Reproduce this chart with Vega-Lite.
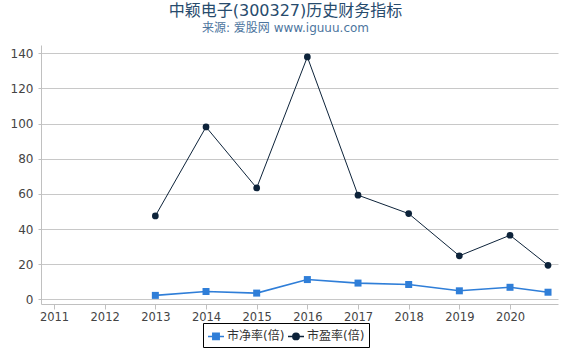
{
  "$schema": "https://vega.github.io/schema/vega-lite/v6.json",
  "width": 517,
  "height": 259,
  "autosize": {"type": "none"},
  "padding": {"left": 41, "top": 45, "right": 12, "bottom": 46},
  "background": "white",
  "config": {
    "font": "DejaVu Sans, Noto Sans CJK SC",
    "view": {"stroke": null}
  },
  "title": {
    "text": "中颖电子(300327)历史财务指标",
    "subtitle": "来源: 爱股网 www.iguuu.com",
    "anchor": "middle",
    "dx": -14,
    "fontSize": 16,
    "subtitleFontSize": 12,
    "color": "#274b6d",
    "subtitleColor": "#4d759e",
    "font": "DejaVu Sans, Noto Sans CJK SC",
    "subtitleFont": "DejaVu Sans, Noto Sans CJK SC",
    "fontWeight": "normal",
    "offset": 11,
    "subtitlePadding": 4
  },
  "data": {
    "values": [
      {"year": 2013, "series": "市净率(倍)", "value": 2.3},
      {"year": 2014, "series": "市净率(倍)", "value": 4.5},
      {"year": 2015, "series": "市净率(倍)", "value": 3.6},
      {"year": 2016, "series": "市净率(倍)", "value": 11.3},
      {"year": 2017, "series": "市净率(倍)", "value": 9.3},
      {"year": 2018, "series": "市净率(倍)", "value": 8.5},
      {"year": 2019, "series": "市净率(倍)", "value": 4.9},
      {"year": 2020, "series": "市净率(倍)", "value": 6.9},
      {"year": 2020.75, "series": "市净率(倍)", "value": 4.1},
      {"year": 2013, "series": "市盈率(倍)", "value": 47.5},
      {"year": 2014, "series": "市盈率(倍)", "value": 98.1},
      {"year": 2015, "series": "市盈率(倍)", "value": 63.4},
      {"year": 2016, "series": "市盈率(倍)", "value": 137.9},
      {"year": 2017, "series": "市盈率(倍)", "value": 59.3},
      {"year": 2018, "series": "市盈率(倍)", "value": 48.8},
      {"year": 2019, "series": "市盈率(倍)", "value": 24.8},
      {"year": 2020, "series": "市盈率(倍)", "value": 36.5},
      {"year": 2020.75, "series": "市盈率(倍)", "value": 19.4}
    ]
  },
  "encoding": {
    "x": {
      "field": "year",
      "type": "quantitative",
      "scale": {"domain": [2010.743, 2020.947], "nice": false, "zero": false},
      "axis": {
        "title": null,
        "values": [2011, 2012, 2013, 2014, 2015, 2016, 2017, 2018, 2019, 2020],
        "format": "d",
        "grid": false,
        "domainColor": "#C0C0C0",
        "tickColor": "#C0C0C0",
        "tickSize": 5,
        "labelPadding": 2,
        "labelFontSize": 11.5,
        "labelColor": "#444444",
        "labelFlush": false
      }
    },
    "y": {
      "field": "value",
      "type": "quantitative",
      "scale": {"domain": [-2.6, 144.7], "nice": false, "zero": false},
      "axis": {
        "title": null,
        "values": [0, 20, 40, 60, 80, 100, 120, 140],
        "grid": true,
        "gridColor": "#C8C8C8",
        "domainColor": "#C0C0C0",
        "tickColor": "#C0C0C0",
        "tickSize": 3,
        "labelPadding": 5,
        "labelFontSize": 12,
        "labelColor": "#444444"
      }
    },
    "color": {
      "field": "series",
      "type": "nominal",
      "scale": {"domain": ["市净率(倍)", "市盈率(倍)"], "range": ["#2f7ed8", "#0d233a"]},
      "legend": {
        "title": null,
        "orient": "none",
        "legendX": 162,
        "legendY": 278,
        "direction": "horizontal",
        "strokeColor": "#000000",
        "padding": 4,
        "labelFontSize": 12,
        "labelColor": "#333333",
        "symbolSize": 256,
        "symbolStrokeWidth": 1.5,
        "columnPadding": 0,
        "labelOffset": 2,
        "encode": {
          "symbols": {
            "update": {
              "shape": {"signal": "datum.value === '市净率(倍)' ? 'M-1,0H1M-0.4,-0.4H0.4V0.4H-0.4Z' : 'M-1,0H1M0.4,0A0.4,0.4 0 1,1 -0.4,0A0.4,0.4 0 1,1 0.4,0Z'"},
              "fill": {"signal": "scale('color', datum.value)"},
              "stroke": {"signal": "scale('color', datum.value)"},
              "strokeWidth": {"value": 1.5},
              "opacity": {"value": 1}
            }
          }
        }
      }
    }
  },
  "layer": [
    {
      "transform": [{"filter": "datum.series === '市净率(倍)'"}],
      "mark": {"type": "line", "strokeWidth": 1.6}
    },
    {
      "transform": [{"filter": "datum.series === '市盈率(倍)'"}],
      "mark": {"type": "line", "strokeWidth": 1}
    },
    {
      "transform": [{"filter": "datum.series === '市净率(倍)'"}],
      "mark": {"type": "point", "filled": true, "opacity": 1, "size": 49, "shape": "square"}
    },
    {
      "transform": [{"filter": "datum.series === '市盈率(倍)'"}],
      "mark": {"type": "point", "filled": true, "opacity": 1, "size": 45, "shape": "circle"}
    }
  ]
}
